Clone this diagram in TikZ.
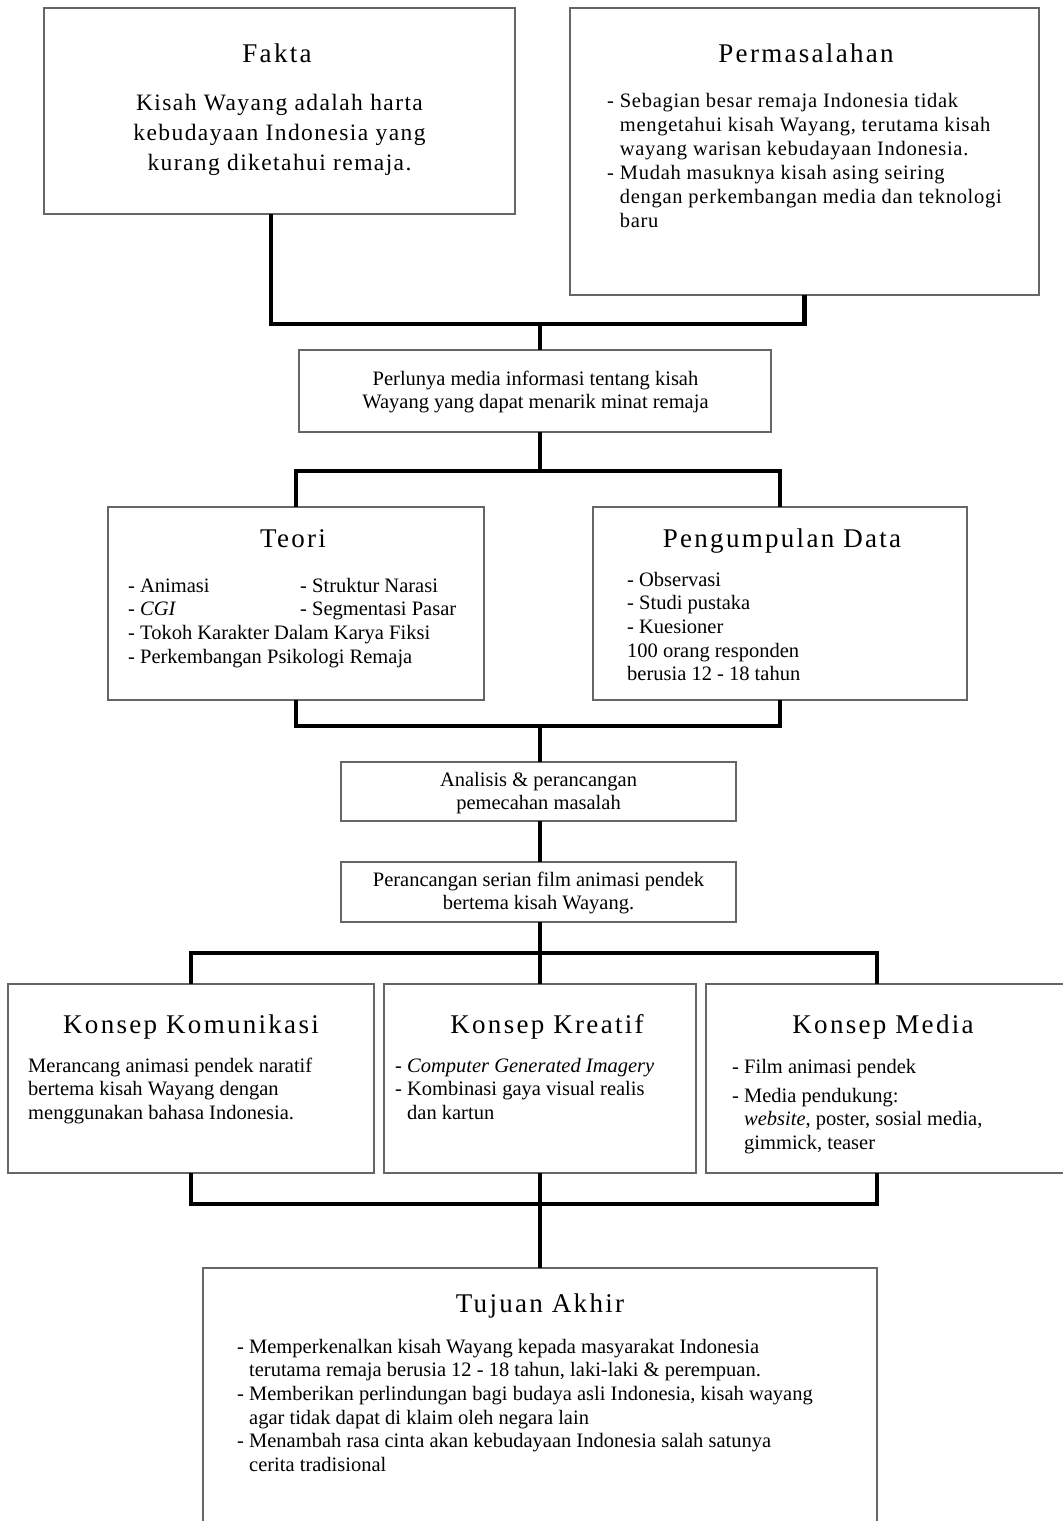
\documentclass[tikz,border=0pt]{standalone}
\usepackage{fontspec}
\setmainfont{Liberation Serif}
\newcommand\ttlfont{\fontsize{27}{32}\selectfont\addfontfeatures{LetterSpace=8.5}}
\newcommand\bodyfont{\fontsize{20.5}{23.7}\selectfont}
\newcommand\permfont{\fontsize{20.5}{24}\selectfont\addfontfeatures{LetterSpace=3.5}}
\newcommand\faktafont{\fontsize{23.5}{30}\selectfont\addfontfeatures{LetterSpace=6}}
\newcommand\blockL[1]{\vtop{\halign{##\hfil\cr#1\crcr}}}
\newcommand\blockC[1]{\vtop{\halign{\hfil##\hfil\cr#1\crcr}}}
\tikzset{
  box/.style={draw=black!60, line width=1.5pt, fill=white, inner sep=0pt, outer sep=0pt},
  conn/.style={line width=4.5pt, line join=miter},
  ttl/.style={inner sep=0pt, anchor=base, font=\ttlfont},
  txtL/.style={inner sep=0pt, anchor=base west, font=\bodyfont},
  txtC/.style={inner sep=0pt, anchor=base, font=\bodyfont},
}
\begin{document}
\begin{tikzpicture}[x=1pt,y=-1pt]
\useasboundingbox (0,0) rectangle (1063,1521);
\clip (0,0) rectangle (1063,1521);
% boxes
\node[box, minimum width=471, minimum height=206] (fakta) at (279.5,111) {};
\node[box, minimum width=469, minimum height=287] (perm) at (804.5,151.5) {};
\node[box, minimum width=472, minimum height=82] (perlu) at (535,391) {};
\node[box, minimum width=376, minimum height=193] (teori) at (296,603.5) {};
\node[box, minimum width=374, minimum height=193] (data) at (780,603.5) {};
\node[box, minimum width=395, minimum height=59] (anal) at (538.5,791.5) {};
\node[box, minimum width=395, minimum height=60] (peran) at (538.5,892) {};
\node[box, minimum width=366, minimum height=189] (kom) at (191,1078.5) {};
\node[box, minimum width=312, minimum height=189] (kre) at (540,1078.5) {};
\node[box, minimum width=364, minimum height=189] (med) at (888,1078.5) {};
\node[box, minimum width=674, minimum height=262] (tuj) at (540,1399) {};
% junctions
\coordinate (j1) at (540,324);
\coordinate (j2) at (540,471);
\coordinate (j3) at (540,726);
\coordinate (j4) at (540,953);
\coordinate (j5) at (540,1204);
\coordinate (medt) at ([xshift=-11pt]med.north);
\coordinate (medb) at ([xshift=-11pt]med.south);
\coordinate (fakb) at ([xshift=-8.5pt]fakta.south);
% connectors
\draw[conn] (fakb) -- (fakb |- j1) -- (j1 -| perm.south) -- (perm.south);
\draw[conn] (j1) -- (j1 |- perlu.north);
\draw[conn] (perlu.south -| j2) -- (j2);
\draw[conn] (teori.north) -- (teori.north |- j2) -- (j2 -| data.north) -- (data.north);
\draw[conn] (teori.south) -- (teori.south |- j3) -- (j3 -| data.south) -- (data.south);
\draw[conn] (j3) -- (j3 |- anal.north);
\draw[conn] (anal.south -| j3) -- (peran.north -| j3);
\draw[conn] (peran.south -| j4) -- (j4);
\draw[conn] (kom.north) -- (kom.north |- j4) -- (j4 -| medt) -- (medt);
\draw[conn] (j4) -- (kre.north);
\draw[conn] (kom.south) -- (kom.south |- j5) -- (j5 -| medb) -- (medb);
\draw[conn] (kre.south) -- (tuj.north);
% texts
\node[ttl] (faktaT) at (277,62) {Fakta};
\node[inner sep=0pt, anchor=base, font=\faktafont] (faktaB) at (279.5,110) {\blockC{Kisah Wayang adalah harta\cr kebudayaan Indonesia yang\cr kurang diketahui remaja.}};
\node[ttl] (permT) at (806,62) {Permasalahan};
\node[inner sep=0pt, anchor=base west, font=\permfont] (permB) at (607,107) {\blockL{- Sebagian besar remaja Indonesia tidak\cr \phantom{- }mengetahui kisah Wayang, terutama kisah\cr \phantom{- }wayang warisan kebudayaan Indonesia.\cr - Mudah masuknya kisah asing seiring\cr \phantom{- }dengan perkembangan media dan teknologi\cr \phantom{- }baru}};
\node[txtC] (perluT) at (535.5,385) {\blockC{Perlunya media informasi tentang kisah\cr Wayang yang dapat menarik minat remaja}};
\node[ttl] (teoriT) at (293,547) {Teori};
\node[txtL] (teoriA) at (128,592) {\blockL{- Animasi\cr - \textit{CGI}\cr - Tokoh Karakter Dalam Karya Fiksi\cr - Perkembangan Psikologi Remaja}};
\node[txtL] (teoriB) at (300,592) {\blockL{- Struktur Narasi\cr - Segmentasi Pasar}};
\node[ttl] (dataT) at (782,547) {Pengumpulan Data};
\node[txtL] (dataB) at (627,586) {\blockL{- Observasi\cr - Studi pustaka\cr - Kuesioner\cr 100 orang responden\cr berusia 12 - 18 tahun}};
\node[txtC] (analT) at (538.5,786) {\blockC{Analisis \& perancangan\cr pemecahan masalah}};
\node[txtC] (peranT) at (538.5,886) {\blockC{Perancangan serian film animasi pendek\cr bertema kisah Wayang.}};
\node[ttl] (komT) at (191,1033) {Konsep Komunikasi};
\node[txtL] (komB) at (28,1072) {\blockL{Merancang animasi pendek naratif\cr bertema kisah Wayang dengan\cr menggunakan bahasa Indonesia.}};
\node[ttl] (kreT) at (547,1033) {Konsep Kreatif};
\node[txtL] (kreB) at (395,1072) {\blockL{- \textit{Computer Generated Imagery}\cr - Kombinasi gaya visual realis\cr \phantom{- }dan kartun}};
\node[ttl] (medT) at (883,1033) {Konsep Media};
\node[txtL] (medA) at (732,1073) {- Film animasi pendek};
\node[txtL] (medB) at (732,1102) {\blockL{- Media pendukung:\cr \phantom{- }\textit{website}, poster, sosial media,\cr \phantom{- }gimmick, teaser}};
\node[ttl] (tujT) at (540,1312) {Tujuan Akhir};
\node[txtL] (tujB) at (237,1353) {\blockL{- Memperkenalkan kisah Wayang kepada masyarakat Indonesia\cr \phantom{- }terutama remaja berusia 12 - 18 tahun, laki-laki \& perempuan.\cr - Memberikan perlindungan bagi budaya asli Indonesia, kisah wayang\cr \phantom{- }agar tidak dapat di klaim oleh negara lain\cr - Menambah rasa cinta akan kebudayaan Indonesia salah satunya\cr \phantom{- }cerita tradisional}};
\end{tikzpicture}
\end{document}
